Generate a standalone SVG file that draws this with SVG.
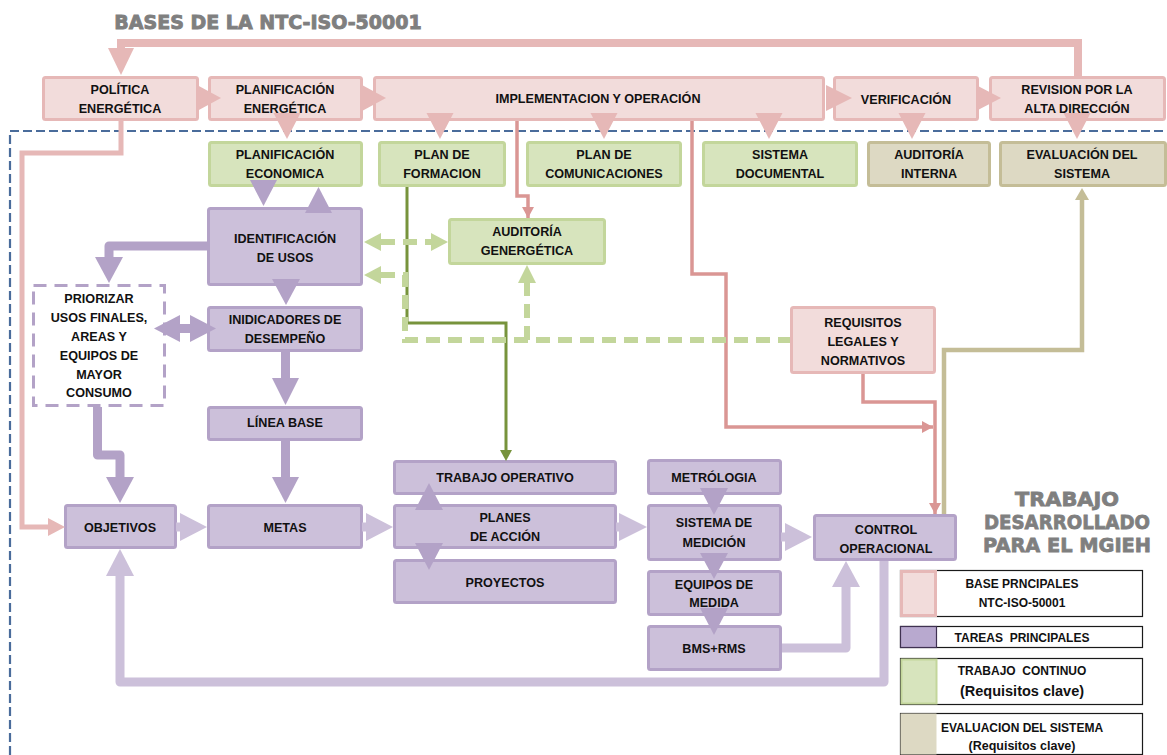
<svg xmlns="http://www.w3.org/2000/svg" width="1167" height="755" viewBox="0 0 1167 755">
<defs>
<style>
.t{font-family:"Liberation Sans",Arial,sans-serif;font-weight:bold;font-size:12.6px;fill:#111;text-anchor:middle}
.lg{font-family:"Liberation Sans",Arial,sans-serif;font-weight:bold;font-size:12px;fill:#111;text-anchor:middle}
.lgb{font-family:"Liberation Sans",Arial,sans-serif;font-weight:bold;font-size:14.5px;fill:#111;text-anchor:middle}
.pk{fill:#f2dcdb;stroke:#e6b8b7;stroke-width:3}
.gr{fill:#d7e4bd;stroke:#c3d69b;stroke-width:3}
.tn{fill:#ddd9c3;stroke:#c4bd97;stroke-width:3}
.pu{fill:#ccc0da;stroke:#b3a2c7;stroke-width:3}
.h1{font-family:"DejaVu Sans",sans-serif;font-weight:bold;fill:#7f7f7f;stroke:#7f7f7f;stroke-width:0.9;text-anchor:middle}
.h2{font-family:"DejaVu Sans",sans-serif;font-weight:bold;font-size:20px;fill:#7f7f7f;stroke:#7f7f7f;stroke-width:0.8;text-anchor:middle}
.ahp{fill:#e6b8b7}
.ahu{fill:#b3a2c7}
.ahl{fill:#ccc0da}
.ahg{fill:#c3d69b}
.lnu{fill:none;stroke:#b3a2c7;stroke-width:9;stroke-linejoin:round}
.lnl{fill:none;stroke:#ccc0da;stroke-width:9;stroke-linejoin:round}
.lnk{fill:none;stroke:#da9694;stroke-width:3.5}
.gd{fill:none;stroke:#c3d69b;stroke-width:6;stroke-dasharray:14 8}
.box{fill:#fff;stroke:#1a1a1a;stroke-width:1.2}
</style>
<marker id="mpk" markerWidth="12" markerHeight="12" refX="11" refY="6" orient="auto" markerUnits="userSpaceOnUse"><path d="M0,0 L11,6 L0,12 z" fill="#da9694"/></marker>
</defs>

<text class="h1" x="268" y="29" font-size="19">BASES DE LA NTC-ISO-50001</text>
<text class="h2" x="1067" y="506" textLength="104" lengthAdjust="spacingAndGlyphs">TRABAJO</text>
<text class="h2" x="1067" y="529" textLength="166" lengthAdjust="spacingAndGlyphs">DESARROLLADO</text>
<text class="h2" x="1067" y="552" textLength="168" lengthAdjust="spacingAndGlyphs">PARA EL MGIEH</text>

<!-- blue dashed boundary -->
<path d="M10,755 V131 H1167" fill="none" stroke="#4a6c9b" stroke-width="2.2" stroke-dasharray="9 4"/>

<!-- nodes -->
<g id="politica"><rect class="pk" x="43.5" y="77.5" width="154" height="42" rx="2"/><text class="t" x="120" y="94">POLÍTICA</text><text class="t" x="120" y="113">ENERGÉTICA</text></g>
<g id="planif-energetica"><rect class="pk" x="209.5" y="77.5" width="152" height="42" rx="2"/><text class="t" x="285" y="94">PLANIFICACIÓN</text><text class="t" x="285" y="113">ENERGÉTICA</text></g>
<g id="implementacion"><rect class="pk" x="374.5" y="77.5" width="449" height="42" rx="2"/><text class="t" x="598" y="103">IMPLEMENTACION Y OPERACIÓN</text></g>
<g id="verificacion"><rect class="pk" x="834.5" y="77.5" width="143" height="42" rx="2"/><text class="t" x="906" y="104">VERIFICACIÓN</text></g>
<g id="revision"><rect class="pk" x="990.5" y="77.5" width="174" height="42" rx="2"/><text class="t" x="1077" y="94">REVISION POR LA</text><text class="t" x="1077" y="113">ALTA DIRECCIÓN</text></g>

<g id="planif-economica"><rect class="gr" x="209.5" y="142.5" width="152" height="43" rx="2"/><text class="t" x="285" y="159">PLANIFICACIÓN</text><text class="t" x="285" y="178">ECONOMICA</text></g>
<g id="plan-formacion"><rect class="gr" x="379.5" y="142.5" width="125" height="43" rx="2"/><text class="t" x="442" y="159">PLAN DE</text><text class="t" x="442" y="178">FORMACION</text></g>
<g id="plan-comunicaciones"><rect class="gr" x="527.5" y="142.5" width="153" height="43" rx="2"/><text class="t" x="604" y="159">PLAN DE</text><text class="t" x="604" y="178">COMUNICACIONES</text></g>
<g id="sistema-documental"><rect class="gr" x="703.5" y="142.5" width="153" height="43" rx="2"/><text class="t" x="780" y="159">SISTEMA</text><text class="t" x="780" y="178">DOCUMENTAL</text></g>
<g id="auditoria-interna"><rect class="tn" x="868.5" y="142.5" width="121" height="43" rx="2"/><text class="t" x="929" y="159">AUDITORÍA</text><text class="t" x="929" y="178">INTERNA</text></g>
<g id="evaluacion-sistema"><rect class="tn" x="1000.5" y="142.5" width="165" height="43" rx="2"/><text class="t" x="1082" y="159">EVALUACIÓN DEL</text><text class="t" x="1082" y="178">SISTEMA</text></g>

<g id="identificacion"><rect class="pu" x="208.5" y="208.5" width="153" height="76" rx="2"/><text class="t" x="285" y="243">IDENTIFICACIÓN</text><text class="t" x="285" y="262">DE USOS</text></g>
<g id="auditoria-genergetica"><rect class="gr" x="449.5" y="219.5" width="155" height="44" rx="2"/><text class="t" x="527" y="236">AUDITORÍA</text><text class="t" x="527" y="255">GENERGÉTICA</text></g>
<g id="priorizar"><rect x="33.5" y="285.5" width="131" height="120" fill="#fff" stroke="#b3a2c7" stroke-width="3" stroke-dasharray="13 8"/>
<text class="t" x="99" y="303">PRIORIZAR</text><text class="t" x="99" y="322">USOS FINALES,</text><text class="t" x="99" y="341">AREAS Y</text><text class="t" x="99" y="360">EQUIPOS DE</text><text class="t" x="99" y="379">MAYOR</text><text class="t" x="99" y="397">CONSUMO</text></g>
<g id="indicadores"><rect class="pu" x="208.5" y="307.5" width="153" height="43" rx="2"/><text class="t" x="285" y="324">INIDICADORES DE</text><text class="t" x="285" y="343">DESEMPEÑO</text></g>
<g id="requisitos"><rect class="pk" x="791.5" y="307.5" width="143" height="65" rx="2"/><text class="t" x="863" y="327">REQUISITOS</text><text class="t" x="863" y="346">LEGALES Y</text><text class="t" x="863" y="365">NORMATIVOS</text></g>
<g id="linea-base"><rect class="pu" x="208.5" y="407.5" width="153" height="32" rx="2"/><text class="t" x="285" y="427">LÍNEA BASE</text></g>
<g id="objetivos"><rect class="pu" x="65.5" y="505.5" width="110" height="42" rx="2"/><text class="t" x="120" y="532">OBJETIVOS</text></g>
<g id="metas"><rect class="pu" x="208.5" y="505.5" width="153" height="42" rx="2"/><text class="t" x="285" y="532">METAS</text></g>
<g id="trabajo-operativo"><rect class="pu" x="394.5" y="461.5" width="221" height="32" rx="2"/><text class="t" x="505" y="482">TRABAJO OPERATIVO</text></g>
<g id="planes-accion"><rect class="pu" x="394.5" y="505.5" width="221" height="42" rx="2"/><text class="t" x="505" y="522">PLANES</text><text class="t" x="505" y="541">DE ACCIÓN</text></g>
<g id="proyectos"><rect class="pu" x="394.5" y="560.5" width="221" height="42" rx="2"/><text class="t" x="505" y="587">PROYECTOS</text></g>
<g id="metrologia"><rect class="pu" x="648.5" y="460.5" width="132" height="33" rx="2"/><text class="t" x="714" y="482">METRÓLOGIA</text></g>
<g id="sistema-medicion"><rect class="pu" x="648.5" y="505.5" width="132" height="54" rx="2"/><text class="t" x="714" y="527">SISTEMA DE</text><text class="t" x="714" y="547">MEDICIÓN</text></g>
<g id="equipos-medida"><rect class="pu" x="648.5" y="571.5" width="132" height="43" rx="2"/><text class="t" x="714" y="589">EQUIPOS DE</text><text class="t" x="714" y="607">MEDIDA</text></g>
<g id="bms-rms"><rect class="pu" x="648.5" y="626.5" width="132" height="43" rx="2"/><text class="t" x="714" y="653">BMS+RMS</text></g>
<g id="control-operacional"><rect class="pu" x="814.5" y="515.5" width="141" height="44" rx="2"/><text class="t" x="886" y="534">CONTROL</text><text class="t" x="886" y="553">OPERACIONAL</text></g>

<!-- connectors -->
<g id="connectors">
<path d="M1078,76 V43 H121 V50" fill="none" stroke="#e6b8b7" stroke-width="8"/>
<polygon class="ahp" points="108,48 134,48 121,75"/>
<polygon class="ahp" points="197,85 221,98 197,111"/>
<polygon class="ahp" points="362,85 386,98 362,111"/>
<polygon class="ahp" points="826,85 852,98 826,111"/>
<polygon class="ahp" points="976,85 1001,98 976,111"/>
<polygon class="ahp" points="273.5,113 300.5,113 287,139"/>
<polygon class="ahp" points="426.5,113 453.5,113 440,139"/>
<polygon class="ahp" points="590.5,113 617.5,113 604,139"/>
<polygon class="ahp" points="755.5,113 782.5,113 769,139"/>
<polygon class="ahp" points="898.5,113 925.5,113 912,139"/>
<polygon class="ahp" points="1063.5,113 1090.5,113 1077,139"/>

<path d="M121,121 V153 H22 V527 H50" fill="none" stroke="#e6b8b7" stroke-width="5"/>
<polygon class="ahp" points="48,518 65,527 48,536"/>

<path class="lnk" d="M517,121 V196 H528 V218" marker-end="url(#mpk)"/>
<path class="lnk" d="M692,121 V274 H726 V427 H933" marker-end="url(#mpk)"/>
<path class="lnk" d="M863,374 V402 H935 V514" marker-end="url(#mpk)"/>

<path d="M944,514 V350 H1082 V198" fill="none" stroke="#c4bd97" stroke-width="4.5"/>
<polygon fill="#c4bd97" points="1075,200 1089,200 1082,188"/>

<path d="M407,187 V323 H506 V452" fill="none" stroke="#77933c" stroke-width="3"/>
<polygon fill="#77933c" points="500,450 512,450 506,461"/>

<path class="gd" d="M381,242 H431"/>
<polygon class="ahg" points="381,233 381,251 364,242"/>
<polygon class="ahg" points="431,233 431,251 448,242"/>
<path class="gd" d="M381,275 H405 V340 H790"/>
<polygon class="ahg" points="381,266 381,284 364,275"/>
<path class="gd" d="M527,340 V283"/>
<polygon class="ahg" points="518,283 536,283 527,265"/>

<polygon class="ahu" points="250,180 277,180 263.5,206"/>
<polygon class="ahu" points="305,213 332,213 318.5,187"/>
<path class="lnu" d="M207,246 H109 V258"/>
<polygon class="ahu" points="95,257 123,257 109,283"/>
<polygon class="ahu" points="272,279 300,279 286,305"/>
<path class="lnu" d="M178,328.5 H192" stroke-width="10"/>
<polygon class="ahu" points="180,315 180,342 154,328.5"/>
<polygon class="ahu" points="190,315 190,342 216,328.5"/>
<path class="lnu" d="M285.5,352 V380" stroke-width="10"/>
<polygon class="ahu" points="272,378 299,378 285.5,405"/>
<path class="lnu" d="M285.5,441 V479" stroke-width="10"/>
<polygon class="ahu" points="272,477 299,477 285.5,503"/>
<path class="lnu" d="M97.5,407 V455 H120 V479"/>
<polygon class="ahu" points="106,477 134,477 120,503"/>
<polygon class="ahu" points="415,510 443,510 429,483"/>
<polygon class="ahu" points="415,543 443,543 429,570"/>
<polygon class="ahu" points="700,488 728,488 714,515"/>
<polygon class="ahu" points="700,553 728,553 714,579"/>
<polygon class="ahu" points="700,608 728,608 714,635"/>

<path class="lnl" d="M176,527 H182" stroke-width="10"/>
<polygon class="ahl" points="180,513 180,541 207,527"/>
<path class="lnl" d="M362,527 H368" stroke-width="10"/>
<polygon class="ahl" points="366,513 366,541 393,527"/>
<path class="lnl" d="M616,527 H621" stroke-width="10"/>
<polygon class="ahl" points="619,513 619,541 647,527"/>
<path class="lnl" d="M781,537 H787" stroke-width="10"/>
<polygon class="ahl" points="785,523 785,551 812,537"/>
<path class="lnl" d="M782,648 H846 V587"/>
<polygon class="ahl" points="832,587 860,587 846,561"/>
<path class="lnl" d="M884,561 V682 H120 V576"/>
<polygon class="ahl" points="106,576 134,576 120,549"/>
</g>

<!-- legend -->
<g id="legend">
<rect class="box" x="900.5" y="570.5" width="242" height="46"/>
<rect class="pk" x="901.5" y="571.5" width="34" height="44"/>
<text class="lg" x="1022" y="588">BASE PRNCIPALES</text>
<text class="lg" x="1022" y="607">NTC-ISO-50001</text>
<rect class="box" x="900.5" y="626.5" width="242" height="21"/>
<rect x="900.5" y="626.5" width="36" height="21" fill="#b8a9cf" stroke="#3f3151" stroke-width="1.2"/>
<text class="lg" x="1022" y="642">TAREAS&#160; PRINCIPALES</text>
<rect class="box" x="900.5" y="658.5" width="242" height="46"/>
<rect x="901.5" y="659.5" width="35" height="44" fill="#d7e4bd" stroke="#c3d69b" stroke-width="2"/>
<text class="lg" x="1022" y="675">TRABAJO&#160; CONTINUO</text>
<text class="lgb" x="1022" y="696">(Requisitos clave)</text>
<rect class="box" x="900.5" y="713.5" width="242" height="41"/>
<rect x="900.5" y="713.5" width="36" height="41" fill="#ddd9c3"/>
<text class="lg" x="1022" y="732">EVALUACION DEL SISTEMA</text>
<text class="lg" x="1022" y="750" style="font-size:12.5px">(Requisitos clave)</text>
</g>
</svg>
